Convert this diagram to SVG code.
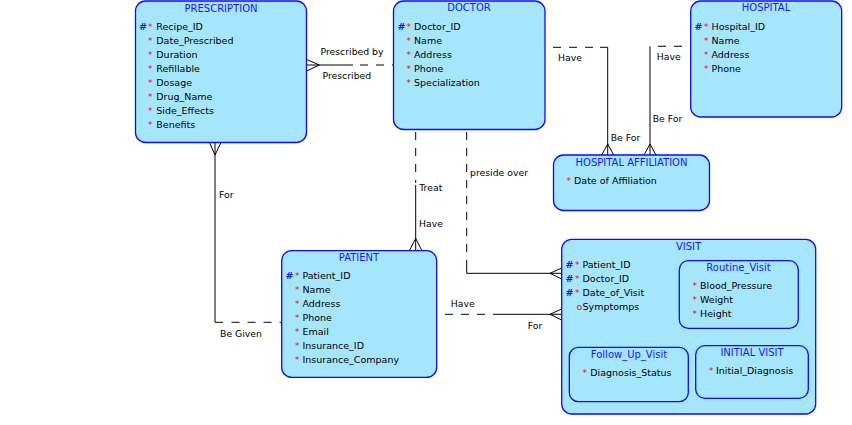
<svg xmlns="http://www.w3.org/2000/svg" width="852" height="425" viewBox="0 0 852 425">
<style>
.box{fill:#a6e6fc;stroke:#0a0aff;stroke-width:1.3}
.title{font-family:"DejaVu Sans",sans-serif;font-size:10px;fill:#1414ff;text-anchor:middle}
.attr{font-family:"DejaVu Sans",sans-serif;font-size:9.5px;fill:#000}
.hash{font-family:"DejaVu Sans",sans-serif;font-size:9.5px;font-weight:bold;fill:#1414e6}
.star{font-family:"DejaVu Sans",sans-serif;font-size:9px;fill:#ff0000}
.opt{font-family:"DejaVu Sans",sans-serif;font-size:9.5px;fill:#ff0000}
.lbl{font-family:"DejaVu Sans",sans-serif;font-size:9.3px;fill:#000}
.solid{fill:none;stroke:#000;stroke-width:1}
.dash{fill:none;stroke:#000;stroke-width:1;stroke-dasharray:8,8}
</style>

<g id="connectors">
  <!-- Prescription - Doctor -->
  <path class="solid" d="M306.7,65 H353"/>
  <path class="dash" d="M360,65 H393.5"/>
  <path class="solid" d="M306.7,59.5 L319.3,65 L306.7,71"/>
  <!-- Prescription - Patient -->
  <path class="solid" d="M215,142.5 V322.3 H223"/>
  <path class="dash" d="M231.5,322.3 H281.7"/>
  <path class="solid" d="M209.5,142.5 L215,155 L221,142.5"/>
  <!-- Doctor - Patient -->
  <path class="dash" d="M415.7,132 V183"/>
  <path class="solid" d="M415.7,185 V250.7"/>
  <path class="solid" d="M409.3,250.7 L415.7,238.3 L421.9,250.7"/>
  <!-- Doctor - Visit -->
  <path class="dash" d="M466.7,132 V266"/>
  <path class="solid" d="M466.7,266 V273.3 H561.7"/>
  <path class="solid" d="M561.7,268 L550,273.3 L561.7,279"/>
  <!-- Patient - Visit -->
  <path class="dash" d="M445,314.3 H487"/>
  <path class="solid" d="M493,314.3 H561.7"/>
  <path class="solid" d="M561.7,309 L550,314.3 L561.7,320"/>
  <!-- Doctor - Hospital Affiliation -->
  <path class="dash" d="M553,47.3 H597"/>
  <path class="solid" d="M600,47.3 H607.7 V155"/>
  <path class="solid" d="M601.7,155 L607.7,144 L613.7,155"/>
  <!-- Hospital - Hospital Affiliation -->
  <path class="dash" d="M658,46.3 H690.7"/>
  <path class="solid" d="M650,46.3 V155"/>
  <path class="solid" d="M644,155 L650,144 L656,155"/>
  <!-- labels -->
  <text class="lbl" x="320.5" y="55.3">Prescribed by</text>
  <text class="lbl" x="322.5" y="79.3">Prescribed</text>
  <text class="lbl" x="558" y="61.3">Have</text>
  <text class="lbl" x="610.7" y="140.5">Be For</text>
  <text class="lbl" x="656.7" y="60.3">Have</text>
  <text class="lbl" x="652.7" y="122.3">Be For</text>
  <text class="lbl" x="219" y="197.7">For</text>
  <text class="lbl" x="220" y="337.2">Be Given</text>
  <text class="lbl" x="419.3" y="190.5">Treat</text>
  <text class="lbl" x="419" y="227.3">Have</text>
  <text class="lbl" x="470" y="175.5">preside over</text>
  <text class="lbl" x="450.7" y="307.2">Have</text>
  <text class="lbl" x="527.7" y="328.6">For</text>
</g>

<g id="prescription">
  <rect class="box" x="135.5" y="1" width="171" height="141.5" rx="10"/>
  <text class="title" x="221" y="12">PRESCRIPTION</text>
  <text class="hash" x="139" y="30.2">#</text>
  <text class="star" x="148" y="30.2">*</text><text class="attr" x="156.3" y="30.2">Recipe_ID</text>
  <text class="star" x="148" y="44.2">*</text><text class="attr" x="156.3" y="44.2">Date_Prescribed</text>
  <text class="star" x="148" y="58.2">*</text><text class="attr" x="156.3" y="58.2">Duration</text>
  <text class="star" x="148" y="72.2">*</text><text class="attr" x="156.3" y="72.2">Refillable</text>
  <text class="star" x="148" y="86.2">*</text><text class="attr" x="156.3" y="86.2">Dosage</text>
  <text class="star" x="148" y="100.2">*</text><text class="attr" x="156.3" y="100.2">Drug_Name</text>
  <text class="star" x="148" y="114.2">*</text><text class="attr" x="156.3" y="114.2">Side_Effects</text>
  <text class="star" x="148" y="128.2">*</text><text class="attr" x="156.3" y="128.2">Benefits</text>
</g>

<g id="doctor">
  <rect class="box" x="393.5" y="1" width="151.5" height="128.5" rx="10"/>
  <text class="title" x="469" y="11.2">DOCTOR</text>
  <text class="hash" x="397.5" y="29.5">#</text>
  <text class="star" x="406.5" y="29.5">*</text><text class="attr" x="414" y="29.5">Doctor_ID</text>
  <text class="star" x="406.5" y="43.5">*</text><text class="attr" x="414" y="43.5">Name</text>
  <text class="star" x="406.5" y="57.5">*</text><text class="attr" x="414" y="57.5">Address</text>
  <text class="star" x="406.5" y="71.5">*</text><text class="attr" x="414" y="71.5">Phone</text>
  <text class="star" x="406.5" y="85.5">*</text><text class="attr" x="414" y="85.5">Specialization</text>
</g>

<g id="hospital">
  <rect class="box" x="690.7" y="1" width="151" height="116" rx="10"/>
  <text class="title" x="766" y="11.2">HOSPITAL</text>
  <text class="hash" x="694.5" y="29.5">#</text>
  <text class="star" x="704" y="29.5">*</text><text class="attr" x="711.5" y="29.5">Hospital_ID</text>
  <text class="star" x="704" y="43.5">*</text><text class="attr" x="711.5" y="43.5">Name</text>
  <text class="star" x="704" y="57.5">*</text><text class="attr" x="711.5" y="57.5">Address</text>
  <text class="star" x="704" y="71.5">*</text><text class="attr" x="711.5" y="71.5">Phone</text>
</g>

<g id="hospital_affiliation">
  <rect class="box" x="553.5" y="155" width="156" height="55.5" rx="10"/>
  <text class="title" x="631.5" y="166.4">HOSPITAL AFFILIATION</text>
  <text class="star" x="566.5" y="184.4">*</text><text class="attr" x="574" y="184.4">Date of Affiliation</text>
</g>

<g id="patient">
  <rect class="box" x="281.7" y="250.7" width="155" height="126.7" rx="10"/>
  <text class="title" x="359" y="261.2">PATIENT</text>
  <text class="hash" x="285.5" y="279.4">#</text>
  <text class="star" x="295" y="279.4">*</text><text class="attr" x="302.5" y="279.4">Patient_ID</text>
  <text class="star" x="295" y="293.4">*</text><text class="attr" x="302.5" y="293.4">Name</text>
  <text class="star" x="295" y="307.4">*</text><text class="attr" x="302.5" y="307.4">Address</text>
  <text class="star" x="295" y="321.4">*</text><text class="attr" x="302.5" y="321.4">Phone</text>
  <text class="star" x="295" y="335.4">*</text><text class="attr" x="302.5" y="335.4">Email</text>
  <text class="star" x="295" y="349.4">*</text><text class="attr" x="302.5" y="349.4">Insurance_ID</text>
  <text class="star" x="295" y="363.4">*</text><text class="attr" x="302.5" y="363.4">Insurance_Company</text>
</g>

<g id="visit">
  <rect class="box" x="561.7" y="239.3" width="254" height="174.7" rx="10"/>
  <text class="title" x="688.5" y="250.2">VISIT</text>
  <text class="hash" x="565.5" y="268.4">#</text>
  <text class="star" x="575" y="268.4">*</text><text class="attr" x="582.5" y="268.4">Patient_ID</text>
  <text class="hash" x="565.5" y="282.4">#</text>
  <text class="star" x="575" y="282.4">*</text><text class="attr" x="582.5" y="282.4">Doctor_ID</text>
  <text class="hash" x="565.5" y="296.4">#</text>
  <text class="star" x="575" y="296.4">*</text><text class="attr" x="582.5" y="296.4">Date_of_Visit</text>
  <text class="opt" x="576.5" y="310.4">o</text><text class="attr" x="582.5" y="310.4">Symptomps</text>
</g>

<g id="routine_visit">
  <rect class="box" x="679.3" y="260.7" width="119" height="67.7" rx="9"/>
  <text class="title" x="738.5" y="271">Routine_Visit</text>
  <text class="star" x="692.5" y="289.4">*</text><text class="attr" x="700" y="289.4">Blood_Pressure</text>
  <text class="star" x="692.5" y="303.4">*</text><text class="attr" x="700" y="303.4">Weight</text>
  <text class="star" x="692.5" y="317.4">*</text><text class="attr" x="700" y="317.4">Height</text>
</g>

<g id="follow_up_visit">
  <rect class="box" x="569.3" y="347.3" width="119" height="54.4" rx="9"/>
  <text class="title" x="629" y="358.4">Follow_Up_Visit</text>
  <text class="star" x="582.5" y="376.3">*</text><text class="attr" x="590.3" y="376.3">Diagnosis_Status</text>
</g>

<g id="initial_visit">
  <rect class="box" x="695.7" y="345.7" width="112.6" height="52.6" rx="9"/>
  <text class="title" x="752" y="356.2">INITIAL VISIT</text>
  <text class="star" x="709" y="374.4">*</text><text class="attr" x="716" y="374.4">Initial_Diagnosis</text>
</g>
</svg>
